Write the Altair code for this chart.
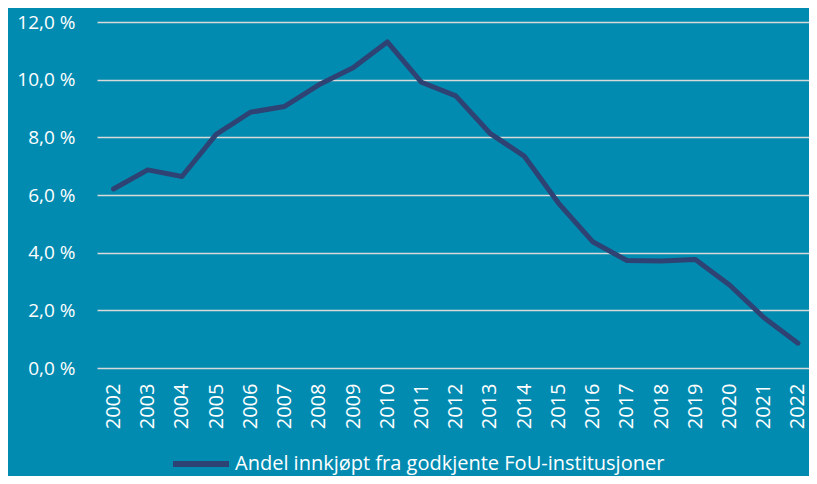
import altair as alt
import pandas as pd

years = [str(y) for y in range(2002, 2023)]
values = [6.21, 6.87, 6.64, 8.10, 8.87, 9.07, 9.82, 10.41, 11.31, 9.91, 9.44,
          8.14, 7.35, 5.72, 4.38, 3.73, 3.71, 3.76, 2.88, 1.75, 0.86]
series_name = "Andel innkjøpt fra godkjente FoU-institusjoner"
y_ticks = [0, 2, 4, 6, 8, 10, 12]

df = pd.DataFrame({"year": years, "value": values, "serie": [series_name] * len(years)})

BG = "#028BB1"
LINE = "#2E4373"
FONT = "Open Sans"

chart = alt.Chart(df).mark_line(strokeWidth=5, strokeCap="round", strokeJoin="round").encode(
    x=alt.X("year:O", title=None,
            scale=alt.Scale(type="point", padding=0.402, align=0.6),
            axis=alt.Axis(labelAngle=270, labelPadding=15, grid=False, ticks=False,
                          domain=False, labelColor="white", labelFont=FONT,
                          labelFontSize=20)),
    y=alt.Y("value:Q", title=None,
            scale=alt.Scale(domain=[0, 12], nice=False, zero=True),
            axis=alt.Axis(values=y_ticks, grid=True, gridColor="#D9D9D9", gridWidth=1.5,
                          ticks=False, domain=False, labelPadding=22,
                          labelColor="white", labelFont=FONT, labelFontSize=19,
                          labelExpr="replace(format(datum.value, '.1f'), '.', ',') + ' %'")),
    color=alt.Color("serie:N", scale=alt.Scale(range=[LINE]),
                    legend=alt.Legend(orient="none", legendX=73, legendY=411, title=None,
                                      symbolType="stroke", symbolStrokeWidth=6,
                                      symbolSize=3136, labelFontSize=20, labelLimit=0,
                                      labelColor="white", labelFont=FONT,
                                      labelOffset=3, padding=0)),
).properties(
    width=712,
    height=346,
    background=BG,
    padding={"left": 89, "top": 14, "right": 0, "bottom": 108},
    autosize=alt.AutoSizeParams(type="none"),
).configure_view(strokeWidth=0)

chart.save("out.html", embed_options={"renderer": "svg", "actions": False})
